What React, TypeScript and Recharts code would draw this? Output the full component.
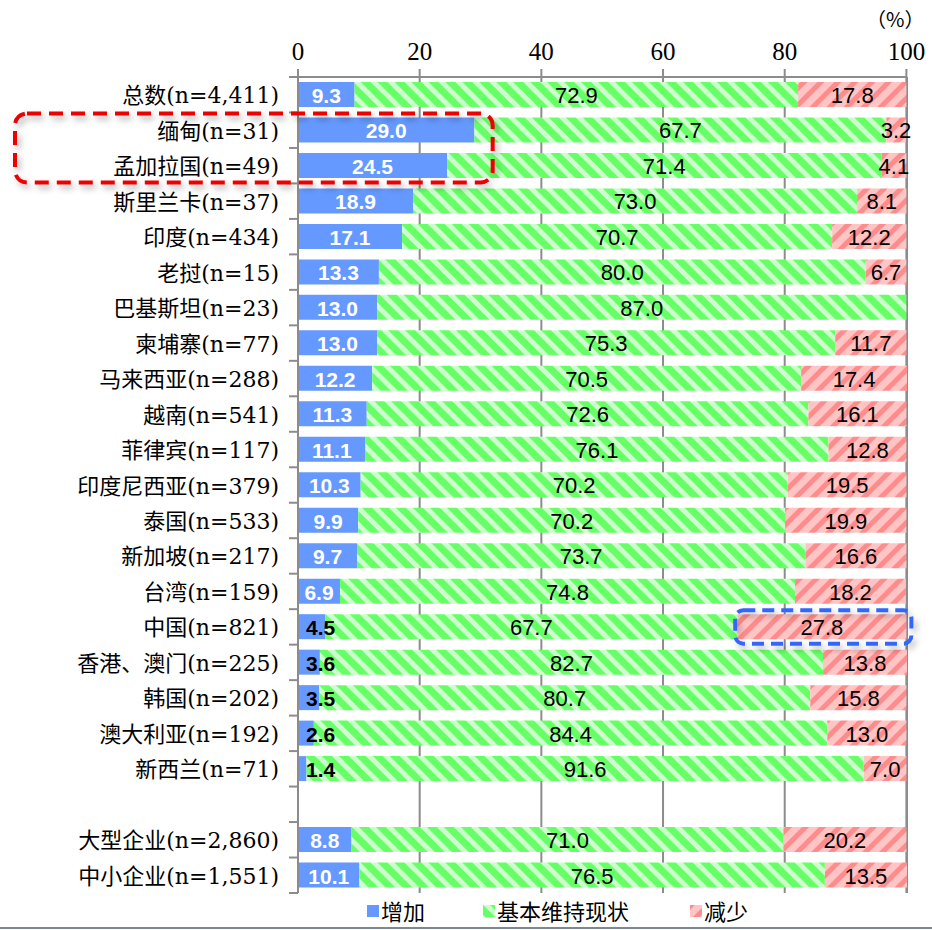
import { BarChart, Bar, XAxis, YAxis, CartesianGrid, LabelList, ReferenceArea } from 'recharts';

const categories = [
    '总数(n=4,411)', '缅甸(n=31)', '孟加拉国(n=49)', '斯里兰卡(n=37)', '印度(n=434)', '老挝(n=15)',
    '巴基斯坦(n=23)', '柬埔寨(n=77)', '马来西亚(n=288)', '越南(n=541)', '菲律宾(n=117)',
    '印度尼西亚(n=379)', '泰国(n=533)', '新加坡(n=217)', '台湾(n=159)', '中国(n=821)',
    '香港、澳门(n=225)', '韩国(n=202)', '澳大利亚(n=192)', '新西兰(n=71)', ' ',
    '大型企业(n=2,860)', '中小企业(n=1,551)',
];
const increase = [9.3, 29.0, 24.5, 18.9, 17.1, 13.3, 13.0, 13.0, 12.2, 11.3, 11.1, 10.3, 9.9, 9.7, 6.9, 4.5, 3.6, 3.5, 2.6, 1.4, null, 8.8, 10.1];
const maintain = [72.9, 67.7, 71.4, 73.0, 70.7, 80.0, 87.0, 75.3, 70.5, 72.6, 76.1, 70.2, 70.2, 73.7, 74.8, 67.7, 82.7, 80.7, 84.4, 91.6, null, 71.0, 76.5];
const decrease = [17.8, 3.2, 4.1, 8.1, 12.2, 6.7, 0, 11.7, 17.4, 16.1, 12.8, 19.5, 19.9, 16.6, 18.2, 27.8, 13.8, 15.8, 13.0, 7.0, null, 20.2, 13.5];
const xTicks = [0, 20, 40, 60, 80, 100];
const seriesNames = ['增加', '基本维持现状', '减少'];

const data = categories.map((name, i) => ({
    name,
    inc: increase[i],
    keep: maintain[i],
    dec: decrease[i],
}));

const SERIF = "'Liberation Serif', 'DejaVu Serif', 'Noto Sans CJK SC', serif";
const LABEL_FONT = "'DejaVu Serif', 'Noto Sans CJK SC', serif";
const SANS = "'Liberation Sans', Arial, sans-serif";
const GRID = '#8c8c8c';

function Patterns({ prefix }: { prefix: string }) {
    return (
        <defs>
            <pattern id={`${prefix}green`} patternUnits="userSpaceOnUse" width="12" height="12" patternTransform="rotate(-45)">
                <rect width="12" height="12" fill="#66ff66" />
                <rect width="5" height="12" fill="#ccffcc" />
            </pattern>
            <pattern id={`${prefix}pink`} patternUnits="userSpaceOnUse" width="12" height="12" patternTransform="rotate(45)">
                <rect width="12" height="12" fill="#ffc4c4" />
                <rect width="5" height="12" fill="#ff8c8c" />
            </pattern>
            <filter id={`${prefix}shadow`} x="-10%" y="-30%" width="120%" height="160%">
                <feDropShadow dx="3" dy="4" stdDeviation="3" floodColor="#000" floodOpacity="0.3" />
            </filter>
        </defs>
    );
}

const BlueLabel = (p: any) => {
    const { x, y, width, height, value } = p;
    if (value == null || value === 0) return null;
    const small = value < 5;
    return (
        <text
            x={small ? x + 8 : x + width / 2}
            y={y + height / 2 + 1}
            textAnchor={small ? 'start' : 'middle'}
            dominantBaseline="central"
            fill={small ? '#000' : '#fff'}
            fontWeight="bold"
            fontSize={21}
            fontFamily={SANS}
        >
            {Number(value).toFixed(1)}
        </text>
    );
};

const CenterLabel = (p: any) => {
    const { x, y, width, height, value } = p;
    if (value == null || value === 0) return null;
    return (
        <text
            x={x + width / 2}
            y={y + height / 2 + 1}
            textAnchor="middle"
            dominantBaseline="central"
            fill="#000"
            fontSize={22}
            fontFamily={SANS}
        >
            {Number(value).toFixed(1)}
        </text>
    );
};

const CategoryTick = (p: any) => {
    const { x, y, payload, index } = p;
    const off = payload?.offset ?? 17.7;
    const axisX = x + 18;
    return (
        <g>
            <text x={x - 1} y={y + 1} textAnchor="end" dominantBaseline="central" fontSize={22} fontFamily={LABEL_FONT} fill="#000">
                {payload.value}
            </text>
            <line x1={axisX - 9} x2={axisX} y1={y - off} y2={y - off} stroke={GRID} strokeWidth={2} />
            {index === categories.length - 1 && (
                <line x1={axisX - 9} x2={axisX} y1={y + off} y2={y + off} stroke={GRID} strokeWidth={2} />
            )}
        </g>
    );
};

const RedBox = (p: any) => {
    const { x, y, width, height } = p;
    const left = x - 283;
    return (
        <rect
            x={left}
            y={y + 1}
            width={x + width - left}
            height={height - 2}
            rx={12}
            fill="none"
            stroke="#ee0000"
            strokeWidth={4}
            strokeDasharray="14 8"
            filter="url(#cshadow)"
        />
    );
};

const BlueBox = (p: any) => {
    const { x, y, width, height } = p;
    return (
        <rect
            x={x - 2}
            y={y + 1}
            width={width + 7}
            height={height - 2}
            rx={8}
            fill="none"
            stroke="#3366ff"
            strokeWidth={4}
            strokeDasharray="12 7"
            filter="url(#cshadow)"
        />
    );
};

function LegendRow() {
    const items = [
        { x: 367, fill: '#6699ff', label: seriesNames[0] },
        { x: 483, fill: 'url(#lgreen)', label: seriesNames[1] },
        { x: 690, fill: 'url(#lpink)', label: seriesNames[2] },
    ];
    return (
        <svg width={932} height={30} style={{ position: 'absolute', left: 0, top: 897 }}>
            <Patterns prefix="l" />
            {items.map((it) => (
                <g key={it.label}>
                    <rect x={it.x} y={8} width={12} height={12} fill={it.fill} />
                    <text x={it.x + 14} y={15} dominantBaseline="central" fontSize={22} fontFamily={SERIF} fill="#000">
                        {it.label}
                    </text>
                </g>
            ))}
        </svg>
    );
}

export default function App() {
    return (
        <div style={{ position: 'absolute', left: 0, top: 0, width: 932, height: 930, background: '#fff' }}>
            <div style={{ position: 'absolute', left: 866, top: 4, fontSize: 20, fontFamily: "'Noto Sans CJK SC', sans-serif", color: '#000' }}>（%）</div>
            <BarChart
                width={932}
                height={930}
                data={data}
                layout="vertical"
                margin={{ top: 10, right: 25, bottom: 37, left: 0 }}
                barSize={25}
            >
                <Patterns prefix="c" />
                <CartesianGrid horizontal={false} vertical stroke={GRID} strokeWidth={2} />
                <XAxis
                    type="number"
                    orientation="top"
                    domain={[0, 100]}
                    ticks={xTicks}
                    height={67}
                    tickSize={8}
                    tickMargin={9}
                    axisLine={{ stroke: GRID, strokeWidth: 2 }}
                    tickLine={{ stroke: GRID, strokeWidth: 2 }}
                    tick={{ fontSize: 25, fontFamily: SERIF, fill: '#000' }}
                />
                <XAxis
                    xAxisId="b"
                    type="number"
                    orientation="bottom"
                    domain={[0, 100]}
                    height={0}
                    tick={false}
                    tickLine={false}
                    axisLine={{ stroke: GRID, strokeWidth: 2 }}
                />
                <YAxis
                    type="category"
                    dataKey="name"
                    width={298}
                    interval={0}
                    tickSize={8}
                    tickMargin={10}
                    tickLine={false}
                    axisLine={{ stroke: GRID, strokeWidth: 2 }}
                    tick={<CategoryTick />}
                />
                <Bar dataKey="inc" stackId="a" fill="#6699ff" isAnimationActive={false}>
                    <LabelList dataKey="inc" content={<BlueLabel />} />
                </Bar>
                <Bar dataKey="keep" stackId="a" fill="url(#cgreen)" isAnimationActive={false}>
                    <LabelList dataKey="keep" content={<CenterLabel />} />
                </Bar>
                <Bar dataKey="dec" stackId="a" fill="url(#cpink)" isAnimationActive={false}>
                    <LabelList dataKey="dec" content={<CenterLabel />} />
                </Bar>
                <ReferenceArea
                    x1={0}
                    x2={32}
                    y1={categories[1]}
                    y2={categories[2]}
                    ifOverflow="visible"
                    zIndex={2000}
                    shape={<RedBox />}
                />
                <ReferenceArea
                    x1={72.2}
                    x2={100}
                    y1={categories[15]}
                    y2={categories[15]}
                    ifOverflow="visible"
                    zIndex={2000}
                    shape={<BlueBox />}
                />
            </BarChart>
            <LegendRow />
            <div style={{ position: 'absolute', left: 0, top: 927, width: 932, height: 2, background: '#7a8899' }} />
        </div>
    );
}
